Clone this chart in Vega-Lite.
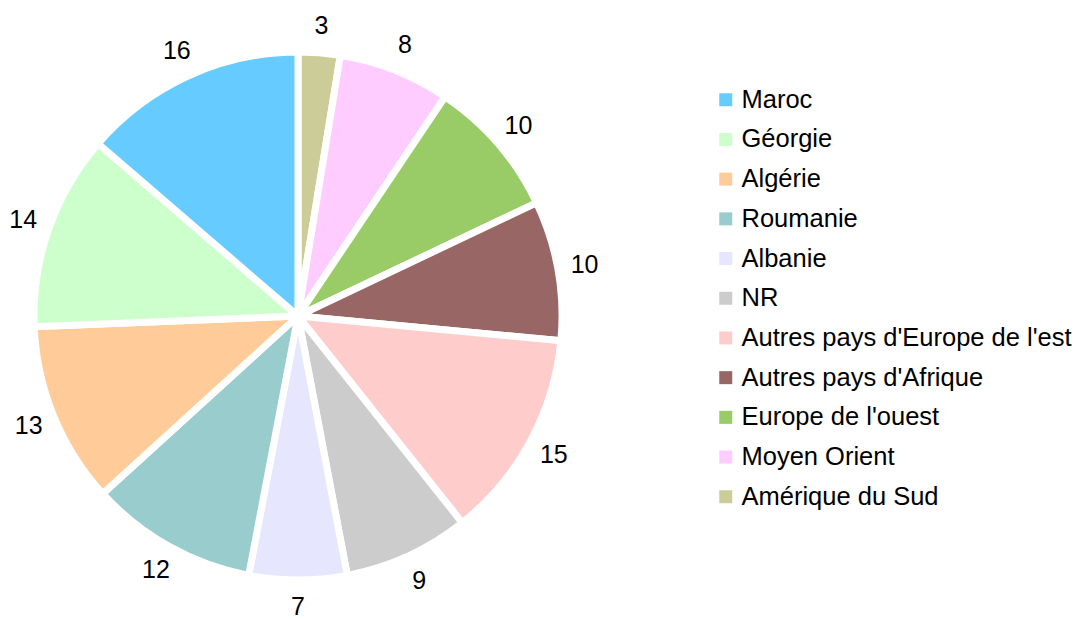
{
  "$schema": "https://vega.github.io/schema/vega-lite/v6.json",
  "width": 596,
  "height": 630,
  "autosize": "none",
  "padding": {"left": 0, "top": 1, "right": 487, "bottom": 0},
  "background": "white",
  "config": {"view": {"stroke": null}, "font": "Liberation Sans"},
  "data": {
    "values": [
      {"pays": "Amérique du Sud", "n": 3, "ordre": 1},
      {"pays": "Moyen Orient", "n": 8, "ordre": 2},
      {"pays": "Europe de l'ouest", "n": 10, "ordre": 3},
      {"pays": "Autres pays d'Afrique", "n": 10, "ordre": 4},
      {"pays": "Autres pays d'Europe de l'est", "n": 15, "ordre": 5},
      {"pays": "NR", "n": 9, "ordre": 6},
      {"pays": "Albanie", "n": 7, "ordre": 7},
      {"pays": "Roumanie", "n": 12, "ordre": 8},
      {"pays": "Algérie", "n": 13, "ordre": 9},
      {"pays": "Géorgie", "n": 14, "ordre": 10},
      {"pays": "Maroc", "n": 16, "ordre": 11}
    ]
  },
  "encoding": {
    "theta": {"field": "n", "type": "quantitative", "stack": true},
    "order": {"field": "ordre", "type": "quantitative"},
    "color": {
      "field": "pays",
      "type": "nominal",
      "scale": {
        "domain": ["Maroc", "Géorgie", "Algérie", "Roumanie", "Albanie", "NR", "Autres pays d'Europe de l'est", "Autres pays d'Afrique", "Europe de l'ouest", "Moyen Orient", "Amérique du Sud"],
        "range": ["#66CCFF", "#CCFFCC", "#FFCC99", "#99CCCC", "#E6E6FF", "#CCCCCC", "#FFCCCC", "#996666", "#99CC66", "#FFCCFF", "#CCCC99"]
      },
      "legend": {
        "title": null,
        "orient": "none",
        "legendX": 713,
        "legendY": 86,
        "symbolType": "square",
        "symbolSize": 169,
        "symbolStrokeWidth": 0,
        "labelFontSize": 25.5,
        "labelFont": "Liberation Sans",
        "labelColor": "#000000",
        "labelLimit": 400,
        "labelOffset": 3,
        "rowPadding": 12.7
      }
    }
  },
  "layer": [
    {
      "mark": {"type": "arc", "outerRadius": 264, "stroke": "white", "strokeWidth": 7}
    },
    {
      "mark": {"type": "text", "radius": 291, "fontSize": 25, "font": "Liberation Sans", "color": "#000000"},
      "encoding": {
        "text": {"field": "n", "type": "quantitative"},
        "color": {"value": "#000000"}
      }
    }
  ]
}
